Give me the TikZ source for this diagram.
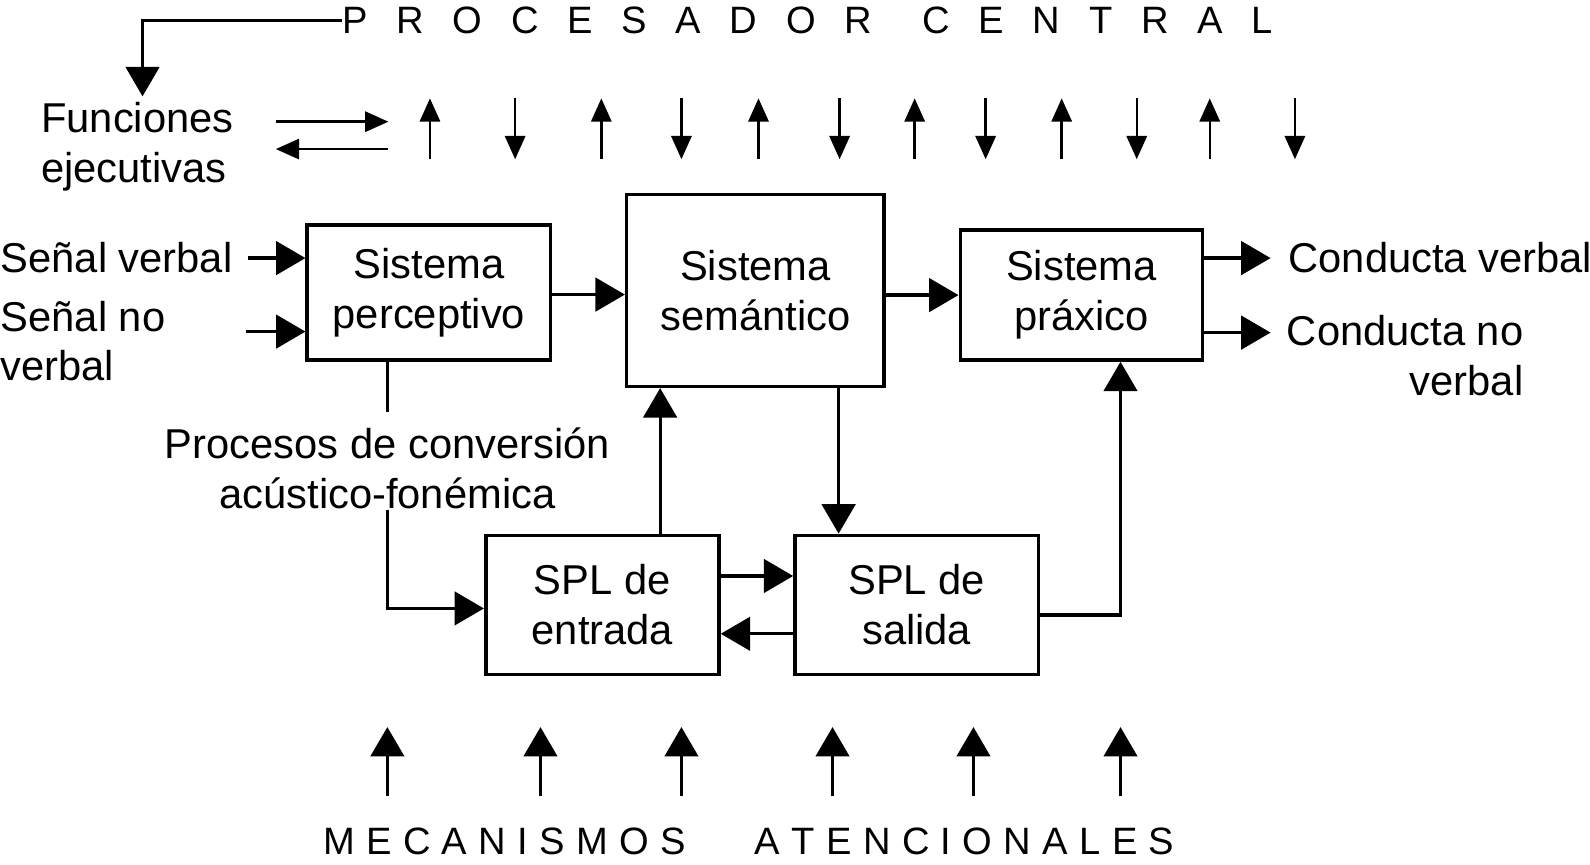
\documentclass[tikz,border=0pt]{standalone}
\usepackage{fontspec}
\setmainfont{Liberation Sans}
\usetikzlibrary{
  arrows.meta,
  positioning
}
\newcommand{\lgap}{\hspace{0.283cm}}
\newcommand{\mgap}{\hspace{0.112cm}}
\tikzset{
  >={Triangle[length=2.9mm,width=3.3mm]},
  flow/.style={-{Triangle[length=2.9mm,width=3.3mm]},line width=0.9pt},
  thin flow/.style={-{Triangle[length=2.3mm,width=2.0mm]},line width=0.7pt},
  link/.style={line width=0.9pt},
  box/.style={
    draw,
    line width=1pt,
    align=center,
    inner sep=0pt
  },
  plaintext/.style={inner sep=0pt,align=left},
  spaced/.style={inner sep=0pt,font=\fontsize{10.7}{12}\selectfont}
}

\begin{document}
\begin{tikzpicture}[font=\fontsize{11.7}{14}\selectfont]
  \useasboundingbox (0,0) rectangle (15.68,8.53);

  % titles
  \node[spaced,anchor=west] (central) at (3.37,8.33)
    {P\lgap R\lgap O\lgap C\lgap E\lgap S\lgap A\lgap D\lgap O\lgap R\hspace{0.5cm}C\lgap E\lgap N\lgap T\lgap R\lgap A\lgap L};
  \node[spaced,anchor=west] (atencion) at (3.18,0.23)
    {M\mgap E\mgap C\mgap A\mgap N\mgap I\mgap S\mgap M\mgap O\mgap S\hspace{0.68cm}A\mgap T\mgap E\mgap N\mgap C\mgap I\mgap O\mgap N\mgap A\mgap L\mgap E\mgap S};

  % side texts
  \node[plaintext,anchor=north west] (funciones) at (0.40,7.53) {Funciones\\ejecutivas};
  \node[plaintext,anchor=west] (sverbal) at (0,5.985) {Señal verbal};
  \node[plaintext,anchor=north west] (snoverbal) at (0,5.57) {Señal no\\verbal};
  \node[plaintext,anchor=west] (cverbal) at (12.70,5.985) {Conducta verbal};
  \node[plaintext,align=right,anchor=north east] (cnoverbal) at (15.03,5.43) {Conducta no\\verbal};
  \node[inner sep=0pt,align=center] (procesos) at (3.82,3.91)
    {Procesos de conversión\\acústico-fonémica};

  % boxes
  \node[box,minimum width=2.40cm,minimum height=1.33cm] (perceptivo) at (4.23,5.645) {Sistema\\perceptivo};
  \node[box,minimum width=2.54cm,minimum height=1.89cm] (semantico) at (7.45,5.665) {Sistema\\semántico};
  \node[box,minimum width=2.39cm,minimum height=1.28cm] (praxico) at (10.665,5.62) {Sistema\\práxico};
  \node[box,minimum width=2.30cm,minimum height=1.37cm] (entrada) at (5.94,2.565) {SPL de\\entrada};
  \node[box,minimum width=2.40cm,minimum height=1.37cm] (salida) at (9.04,2.565) {SPL de\\salida};

  % executive functions
  \draw[flow,shorten >=0.5mm] (central.west) -| ([xshift=0.5mm]funciones.north);
  \coordinate (fe a) at (2.72,7.33);
  \coordinate (fe b) at (3.83,7.33);
  \coordinate (fe c) at (3.83,7.06);
  \coordinate (fe d) at (2.72,7.06);
  \draw[thin flow] (fe a) -- (fe b);
  \draw[thin flow] (fe c) -- (fe d);

  % central processor arrows
  \foreach \x [count=\i] in {4.24,5.93,7.48,9.02,10.47,11.93} {
    \coordinate (ut\i) at (\x,6.96);
    \coordinate (uh\i) at (\x,7.56);
    \draw[thin flow] (ut\i) -- (uh\i);
  }
  \foreach \x [count=\i] in {5.08,6.72,8.28,9.72,11.21,12.77} {
    \coordinate (dt\i) at (\x,7.56);
    \coordinate (dh\i) at (\x,6.96);
    \draw[thin flow] (dt\i) -- (dh\i);
  }

  % inputs and outputs
  \draw[flow,shorten <=1.5mm] (sverbal) -- (sverbal -| perceptivo.west);
  \coordinate (snv in) at (2.43,5.26);
  \draw[flow] (snv in) -- (snv in -| perceptivo.west);
  \draw[flow] ([yshift=-0.2mm]perceptivo.east) -- ([yshift=-0.2mm]perceptivo.east -| semantico.west);
  \draw[flow] (semantico.east |- praxico) -- (praxico.west);
  \draw[flow,shorten >=1.7mm] (praxico.east |- cverbal) -- (cverbal.west);
  \coordinate (cnv in) at (12.53,5.25);
  \draw[flow] (cnv in -| praxico.east) -- (cnv in);

  % lexical routes
  \draw[link] (perceptivo.south -| procesos.north) -- ([yshift=1.5mm]procesos.north);
  \draw[flow] (procesos.south) |- ([yshift=-0.35mm]entrada.west);
  \draw[flow] ([xshift=5.7mm]entrada.north) -- ([xshift=5.7mm]entrada.north |- semantico.south);
  \draw[flow] ([xshift=8.2mm]semantico.south) -- ([xshift=8.2mm]semantico.south |- salida.north);
  \draw[flow] ([yshift=2.85mm]entrada.east) -- ([yshift=2.85mm]salida.west);
  \draw[flow] ([yshift=-2.85mm]salida.west) -- ([yshift=-2.85mm]entrada.east);
  \draw[flow] ([yshift=-1mm]salida.east) -| ([xshift=3.85mm]praxico.south);

  % attentional mechanisms
  \foreach \x [count=\i] in {3.82,5.33,6.72,8.21,9.60,11.05} {
    \coordinate (at\i) at (\x,0.68);
    \coordinate (ah\i) at (\x,1.36);
    \draw[flow] (at\i) -- (ah\i);
  }
\end{tikzpicture}
\end{document}
